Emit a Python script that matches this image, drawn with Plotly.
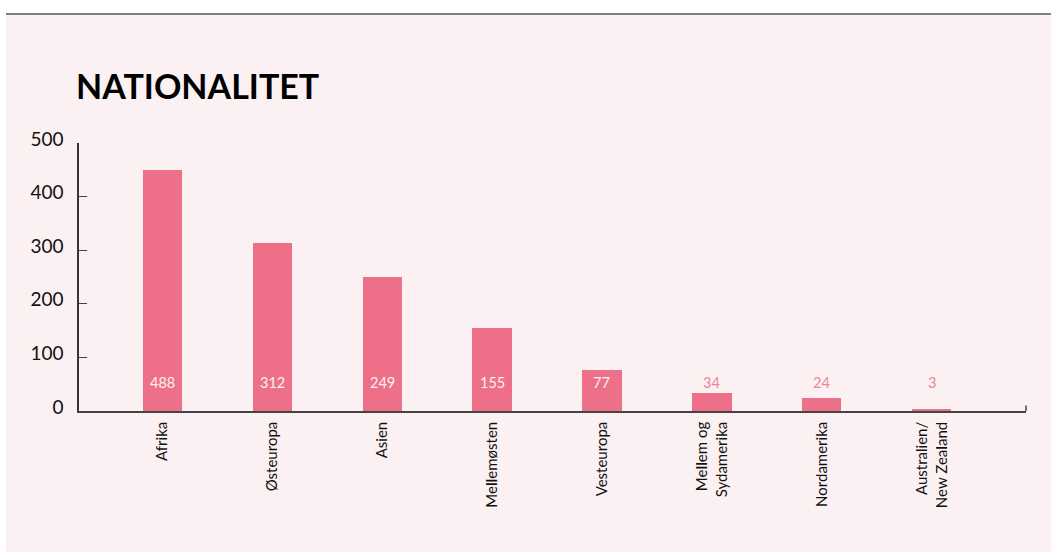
import plotly.graph_objects as go

categories = ["Afrika", "Østeuropa", "Asien", "Me<b>ll</b>emøsten", "Vesteuropa",
              "Me<b>ll</b>em og<br>Sydamerika", "Nordamerika", "Australien/<br>New Zea<b>l</b>and"]
bar_heights = [449, 313, 250, 155, 77, 34, 25, 3]
value_labels = ["488", "312", "249", "155", "77", "34", "24", "3"]
y_ticks = [0, 100, 200, 300, 400, 500]

W, H = 1051, 552
L, R, T, B = 79, 25, 142.5, 140.5
PW, PH = W - L - R, H - T - B

def px2x(px):
    return (px - L) / PW

def py2y(py):
    return (H - B - py) / PH

BAR = "#ee7088"
BG = "#fcf1f2"
FONT = "Lato"

fig = go.Figure()
fig.add_trace(go.Bar(
    x=list(range(len(categories))), y=bar_heights, width=0.355,
    marker=dict(color=BAR, line=dict(width=0)), hoverinfo="skip",
))

anns = []
for i, lab in enumerate(value_labels):
    inside = bar_heights[i] > 60
    anns.append(dict(x=i, y=53, xref="x", yref="y", text=lab, showarrow=False,
                     font=dict(family=FONT, size=14.5, color="#fdf0f2" if inside else "#f0839a"),
                     xanchor="center", yanchor="middle"))
anns.append(dict(x=px2x(74), y=py2y(85), xref="paper", yref="paper", text="<b>NATIONALITET</b>",
                 showarrow=False, xanchor="left", yanchor="middle",
                 font=dict(family=FONT, size=34, color="#000000")))

shapes = [
    dict(type="rect", xref="paper", yref="paper", x0=px2x(-2), x1=px2x(W + 2), y0=py2y(-2), y1=py2y(13),
         fillcolor="#ffffff", line=dict(width=0), layer="above"),
    dict(type="rect", xref="paper", yref="paper", x0=px2x(-2), x1=px2x(6), y0=py2y(-2), y1=py2y(H + 2),
         fillcolor="#ffffff", line=dict(width=0), layer="above"),
    dict(type="line", xref="paper", yref="paper", x0=px2x(6), x1=px2x(W), y0=py2y(13), y1=py2y(13),
         line=dict(color="#555555", width=1.3), layer="above"),
    dict(type="line", xref="paper", yref="paper", x0=1, x1=1, y0=0, y1=py2y(406),
         line=dict(color="#444444", width=1.5)),
]

fig.update_layout(
    width=W, height=H,
    margin=dict(l=L, r=R, t=T, b=B, pad=0),
    paper_bgcolor=BG, plot_bgcolor=BG,
    showlegend=False,
    annotations=anns, shapes=shapes,
    bargap=0,
    font=dict(family=FONT, color="#111111"),
    xaxis=dict(
        tickmode="array", tickvals=list(range(len(categories))), ticktext=categories,
        range=[-0.755, 7.855], showline=True, linecolor="#444444", linewidth=1.5,
        ticks="", tickangle=-90, tickfont=dict(family=FONT, size=15, color="#111111"),
        showgrid=False, zeroline=False, fixedrange=True, ticklabelstandoff=3,
    ),
    yaxis=dict(
        range=[0, 500], tickvals=y_ticks, ticks="inside", ticklen=8, tickwidth=1.3,
        tickcolor="#444444", showline=True, linecolor="#333333", linewidth=1.5,
        showgrid=False, zeroline=False, tickfont=dict(family=FONT, size=19, color="#111111"),
        ticklabelstandoff=10, ticklabelshift=-4, fixedrange=True,
    ),
)

fig.write_html("out.html")
